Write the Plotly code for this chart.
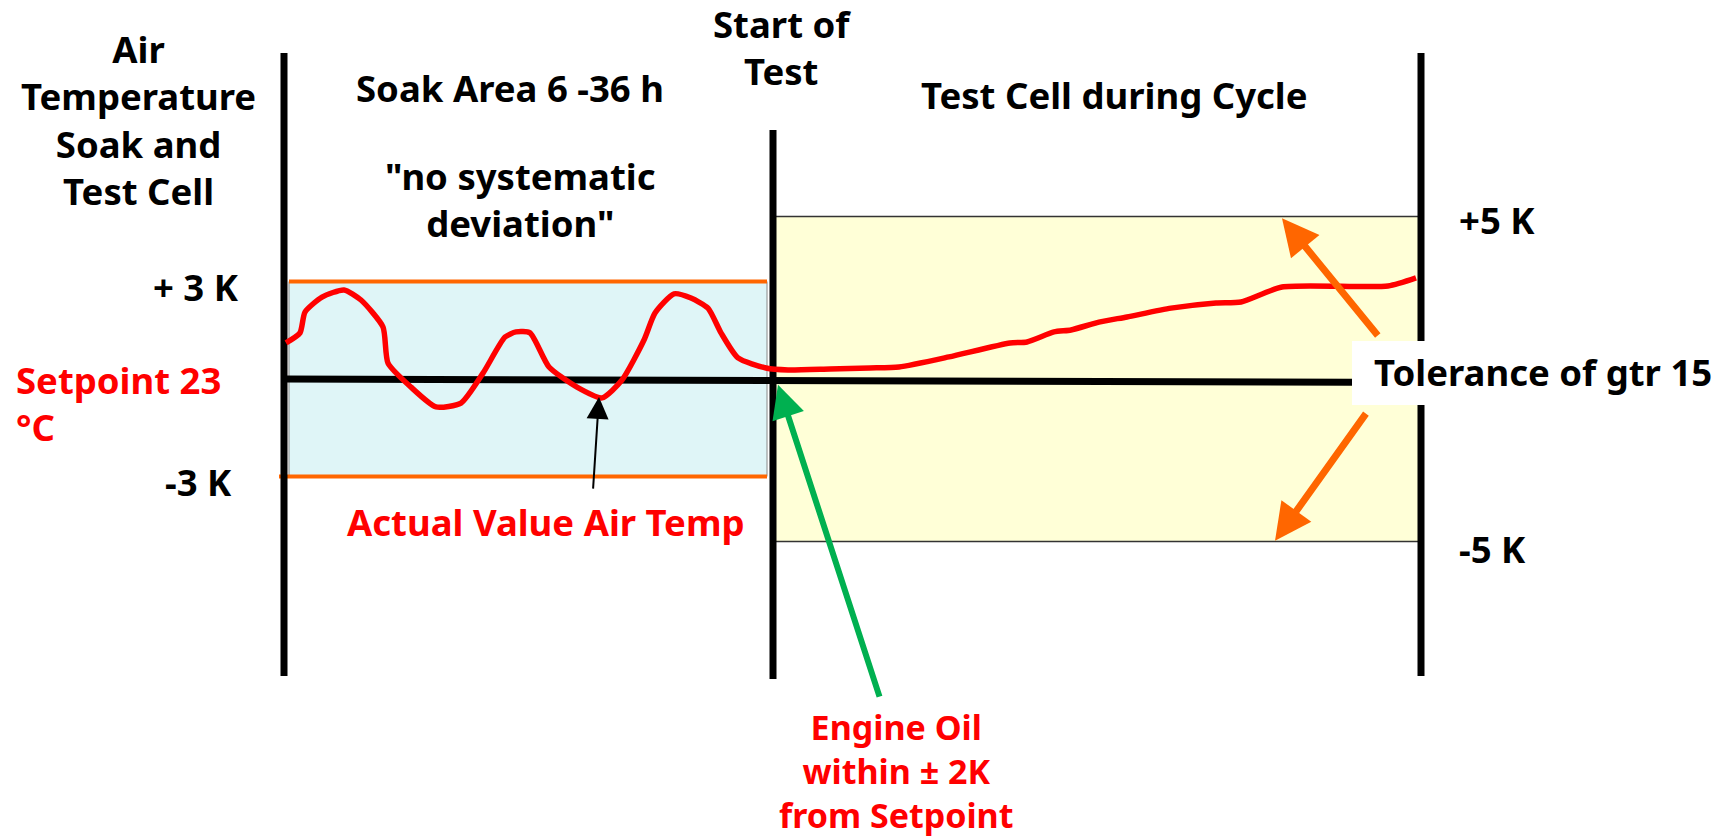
import plotly.graph_objects as go

# ---------------- data ----------------
# time axis (arbitrary units) : soak start, start of test, end of cycle
t_soak_start = 284
t_test_start = 773
t_test_end = 1421

soak_tol = 3      # +/- K in soak area
test_tol = 5      # +/- K in test cell (gtr 15)

# actual air temperature deviation from setpoint (K)
curve_t = [286, 300, 305, 322, 344, 361, 383, 388, 411, 436, 461, 483, 505, 516, 530,
           549, 577, 602, 622, 644, 655, 674, 691, 708, 721, 738, 766, 788, 830, 870,
           899, 949, 1010, 1027, 1054, 1071, 1099, 1127, 1171, 1216, 1241, 1282, 1388, 1416]
curve_k = [1.11, 1.42, 2.06, 2.52, 2.74, 2.43, 1.60, 0.49, -0.25, -0.86, -0.74, 0.18, 1.29, 1.45, 1.42,
           0.37, -0.25, -0.58, -0.03, 1.20, 2.03, 2.62, 2.49, 2.18, 1.42, 0.65, 0.34, 0.28, 0.31, 0.34,
           0.37, 0.68, 1.11, 1.14, 1.45, 1.51, 1.75, 1.91, 2.18, 2.34, 2.37, 2.83, 2.86, 3.11]

setpoint_t = [284, 1352]
setpoint_k = [0.0, -0.1]

# ---------------- figure ----------------
RED = "#FF0000"
ORANGE = "#FF6600"
GREEN = "#00B050"
FONT = "Noto Sans"
FS = 36.5

fig = go.Figure()

# soak band (light blue)
fig.add_trace(go.Scatter(
    x=[t_soak_start + 5, t_test_start - 6, t_test_start - 6, t_soak_start + 5, t_soak_start + 5],
    y=[soak_tol, soak_tol, -soak_tol, -soak_tol, soak_tol],
    fill="toself", fillcolor="#DFF5F7", mode="lines",
    line=dict(color="#888888", width=1), hoverinfo="skip"))

# test band (light yellow)
fig.add_trace(go.Scatter(
    x=[t_test_start + 2, t_test_end - 3, t_test_end - 3, t_test_start + 2, t_test_start + 2],
    y=[test_tol, test_tol, -test_tol, -test_tol, test_tol],
    fill="toself", fillcolor="#FFFFD7", mode="lines",
    line=dict(color="rgba(0,0,0,0)", width=0), hoverinfo="skip"))
for k in (test_tol, -test_tol):
    fig.add_trace(go.Scatter(x=[t_test_start, t_test_end], y=[k, k], mode="lines",
                             line=dict(color="#333333", width=1.6), hoverinfo="skip"))

# orange soak tolerance lines
fig.add_trace(go.Scatter(x=[t_soak_start + 5, t_test_start - 6], y=[soak_tol, soak_tol], mode="lines",
                         line=dict(color=ORANGE, width=4), hoverinfo="skip"))
fig.add_trace(go.Scatter(x=[t_soak_start - 5, t_test_start - 6], y=[-soak_tol, -soak_tol], mode="lines",
                         line=dict(color=ORANGE, width=4), hoverinfo="skip"))

# setpoint line
fig.add_trace(go.Scatter(x=setpoint_t, y=setpoint_k, mode="lines",
                         line=dict(color="black", width=7), hoverinfo="skip"))

# vertical boundary lines
fig.add_trace(go.Scatter(x=[t_soak_start, t_soak_start], y=[10.03, -9.14], mode="lines",
                         line=dict(color="black", width=7), hoverinfo="skip"))
fig.add_trace(go.Scatter(x=[t_test_start, t_test_start], y=[7.66, -9.23], mode="lines",
                         line=dict(color="black", width=7), hoverinfo="skip"))
fig.add_trace(go.Scatter(x=[t_test_end, t_test_end], y=[10.03, -9.14], mode="lines",
                         line=dict(color="black", width=7), hoverinfo="skip"))

# actual air temperature
fig.add_trace(go.Scatter(x=curve_t, y=curve_k, mode="lines",
                         line=dict(color=RED, width=5.5, shape="spline", smoothing=0.6),
                         hoverinfo="skip"))

# white box behind "Tolerance of gtr 15"
fig.add_shape(type="rect", x0=1352, x1=1740, y0=-0.80, y1=1.17,
              fillcolor="white", line=dict(width=0), layer="above")

def txt(x, y, s, color="black", xanchor="center", align="center", size=FS):
    fig.add_annotation(x=x, y=y, text=s, showarrow=False, xanchor=xanchor, yanchor="middle",
                       align=align, font=dict(family=FONT, size=size, color=color, weight="bold"))

txt(138, 7.97, "Air<br>Temperature<br>Soak and<br>Test Cell")
txt(510, 8.95, "Soak Area 6 -36 h")
txt(782, 10.2, "Start of<br>Test")
txt(1114, 8.74, "Test Cell during Cycle")
txt(520, 5.51, "\"no systematic<br>deviation\"")
txt(241, 2.83, "+ 3 K", xanchor="right")
txt(14, -0.74, "Setpoint 23<br>°C", color=RED, xanchor="left", align="left")
txt(234, -3.17, "-3 K", xanchor="right")
txt(546, -4.40, "Actual Value Air Temp", color=RED)
txt(1457, 4.89, "+5 K", xanchor="left")
txt(1457, -5.23, "-5 K", xanchor="left")
txt(1372, 0.22, "Tolerance of gtr 15", xanchor="left")
txt(896, -12.06, "Engine Oil<br>within ± 2K<br>from Setpoint", color=RED, size=34)

def arrow(x, y, ax, ay, color, width, size):
    fig.add_annotation(x=x, y=y, ax=ax, ay=ay, axref="x", ayref="y", xref="x", yref="y",
                       text="", showarrow=True, arrowhead=2, arrowsize=size,
                       arrowwidth=width, arrowcolor=color)

arrow(599, -0.55, 593, -3.42, "black", 2, 2.2)
arrow(778, -0.18, 880, -9.82, GREEN, 6, 1.1)
arrow(1282, 4.95, 1379, 1.29, ORANGE, 7, 1.05)
arrow(1275, -4.98, 1367, -1.02, ORANGE, 7, 1.05)

fig.update_layout(
    width=1731, height=840,
    margin=dict(l=0, r=0, t=0, b=0),
    paper_bgcolor="white", plot_bgcolor="white",
    showlegend=False,
    xaxis=dict(range=[0, 1731], visible=False, fixedrange=True),
    yaxis=dict(range=[-(840 - 379) / 32.5, 379 / 32.5], visible=False, fixedrange=True),
)

fig.write_html("out.html", config={"displayModeBar": False},
               post_script="document.body.style.margin='0px';document.body.style.overflow='hidden';")
